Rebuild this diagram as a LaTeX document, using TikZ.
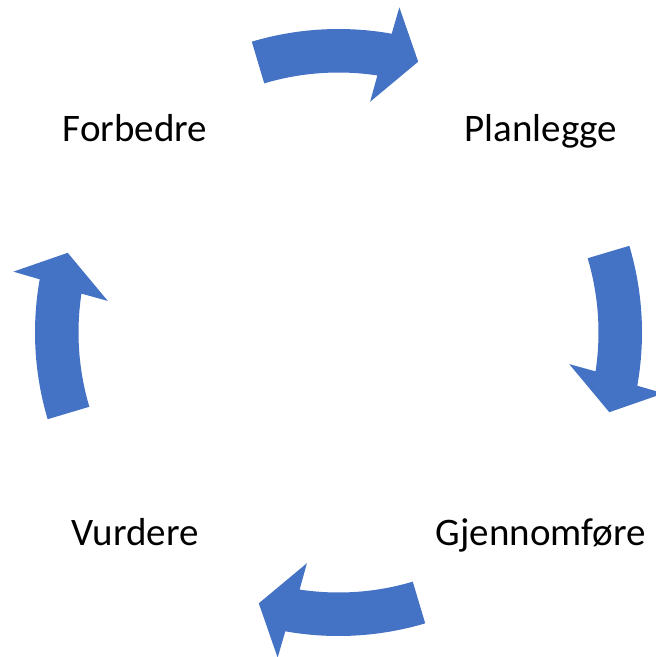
\documentclass[tikz,border=0pt]{standalone}
\usepackage{fontspec}
\setmainfont{Carlito}
\definecolor{cycleblue}{HTML}{4472C4}
\tikzset{
  cyclearrow/.style={fill=cycleblue, draw=none},
  steplabel/.style={anchor=base, inner sep=0pt, font=\fontsize{39}{47}\selectfont, text=black}
}
\newcommand{\cyclearrowpath}{%
  (106.6:303.5pt) arc[start angle=106.6, end angle=79.9, radius=303.5pt]
  -- (79.4:330.8pt) -- (73.6:282.3pt) -- (82.2:232.9pt) -- (81.4:260pt)
  arc[start angle=81.4, end angle=106.6, radius=260pt] -- cycle}
\begin{document}
\begin{tikzpicture}
\useasboundingbox (0pt,0pt) rectangle (656pt,-657pt);
\coordinate (C) at (338.5pt,-332.5pt);
\foreach \r in {0,-90,-180,-270}{
  \begin{scope}[shift={(C)}, rotate=\r]
    \fill[cyclearrow] \cyclearrowpath;
  \end{scope}
}
\node[steplabel] (forbedre) at (135pt,-141.7pt) {Forbedre};
\node[steplabel] (planlegge) at (541pt,-141.7pt) {Planlegge};
\node[steplabel] (gjennomfore) at (541pt,-545pt) {Gjennomføre};
\node[steplabel] (vurdere) at (135pt,-545pt) {Vurdere};
\end{tikzpicture}
\end{document}
